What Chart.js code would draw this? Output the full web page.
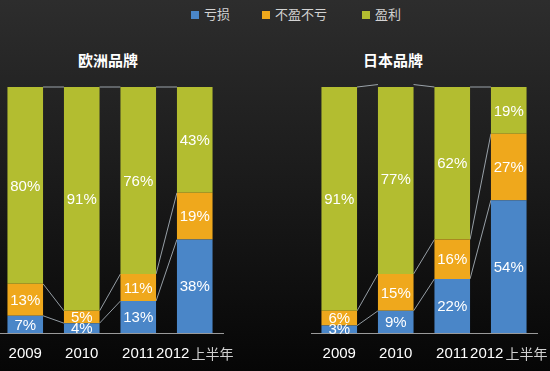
<!DOCTYPE html>
<html>
<head>
<meta charset="utf-8">
<script src="https://cdn.jsdelivr.net/npm/chart.js@4.4.1/dist/chart.umd.min.js"></script>
<style>
  html, body { margin: 0; padding: 0; }
  body {
    width: 550px; height: 371px; overflow: hidden; position: relative;
    background: linear-gradient(to bottom, #2d2d2d 0%, #1c1c1c 45%, #060606 100%);
    font-family: "Noto Sans CJK SC", "Liberation Sans", sans-serif;
  }
  .panel { position: absolute; top: 0; width: 240px; height: 371px; }
  .title {
    position: absolute; top: 50px; width: 100px; text-align: center;
    color: #fff; font-weight: bold; font-size: 15px; line-height: 20px;
  }
  .legend-item { position: absolute; top: 5px; height: 18px; line-height: 18px; color: #d2d2d2; font-size: 13px; }
  .legend-item i { display: inline-block; width: 8px; height: 8px; margin-right: 5px; vertical-align: 0px; }
</style>
</head>
<body>
<div class="legend-item" style="left:191px"><i style="background:#4a86c8"></i>亏损</div>
<div class="legend-item" style="left:262px"><i style="background:#efa81c"></i>不盈不亏</div>
<div class="legend-item" style="left:362px"><i style="background:#b3bd30"></i>盈利</div>

<div class="title" style="left:58px">欧洲品牌</div>
<div class="title" style="left:343px">日本品牌</div>

<div class="panel" style="left:-3px"><canvas id="euChart"></canvas></div>
<div class="panel" style="left:311px"><canvas id="jpChart"></canvas></div>

<script>
// Categories and values (percent)
const years = ['2009', '2010', '2011', '2012'];
const yearSuffix = ['', '', '', '上半年'];
const seriesNames = ['亏损', '不盈不亏', '盈利'];
const seriesColors = ['#4a86c8', '#efa81c', '#b3bd30'];

const euLoss = [7, 4, 13, 38];
const euBreakeven = [13, 5, 11, 19];
const euProfit = [80, 91, 76, 43];

const jpLoss = [3, 9, 22, 54];
const jpBreakeven = [6, 15, 16, 27];
const jpProfit = [91, 77, 62, 19];

// thin lines joining the segment tops of neighbouring bars
const connectors = {
    id: 'connectors',
    beforeDatasetsDraw(chart) {
        const ctx = chart.ctx;
        ctx.save();
        ctx.strokeStyle = 'rgba(195, 205, 215, 0.75)';
        ctx.lineWidth = 1;
        chart.data.datasets.forEach((ds, di) => {
            const meta = chart.getDatasetMeta(di);
            for (let i = 0; i < meta.data.length - 1; i++) {
                const a = meta.data[i], b = meta.data[i + 1];
                ctx.beginPath();
                ctx.moveTo(a.x + a.width / 2, a.y);
                ctx.lineTo(b.x - b.width / 2, b.y);
                ctx.stroke();
            }
        });
        ctx.restore();
    }
};

// percent labels inside segments + x labels with the grey suffix
const labels = {
    id: 'labels',
    afterDatasetsDraw(chart) {
        const ctx = chart.ctx;
        ctx.save();
        ctx.fillStyle = '#ffffff';
        ctx.font = '15px "Liberation Sans", sans-serif';
        ctx.textAlign = 'center';
        ctx.textBaseline = 'middle';
        chart.data.datasets.forEach((ds, di) => {
            const meta = chart.getDatasetMeta(di);
            meta.data.forEach((bar, i) => {
                ctx.fillText(ds.data[i] + '%', bar.x, (bar.y + bar.base) / 2 + 1);
            });
        });

        const xScale = chart.scales.x;
        const y = chart.chartArea.bottom + 21;
        ctx.textAlign = 'left';
        years.forEach((yr, i) => {
            const cx = xScale.getPixelForValue(i);
            ctx.font = '15px "Liberation Sans", sans-serif';
            const w1 = ctx.measureText(yr).width;
            ctx.font = '14px "Noto Sans CJK SC", sans-serif';
            const w2 = yearSuffix[i] ? ctx.measureText(yearSuffix[i]).width + 2 : 0;
            let x = cx - (w1 + w2) / 2;
            ctx.font = '15px "Liberation Sans", sans-serif';
            ctx.fillStyle = '#ffffff';
            ctx.fillText(yr, x, y);
            if (yearSuffix[i]) {
                ctx.font = '14px "Noto Sans CJK SC", sans-serif';
                ctx.fillStyle = '#cfcfcf';
                ctx.fillText(yearSuffix[i], x + w1 + 2, y);
            }
        });
        ctx.restore();
    }
};

function makeChart(id, loss, breakeven, profit) {
    const values = [loss, breakeven, profit];
    new Chart(document.getElementById(id), {
        type: 'bar',
        data: {
            labels: years.map((y, i) => y + yearSuffix[i]),
            datasets: values.map((data, i) => ({
                label: seriesNames[i],
                data: data,
                backgroundColor: seriesColors[i],
                borderWidth: 0,
                barPercentage: 0.63,
                categoryPercentage: 1.0
            }))
        },
        options: {
            responsive: true,
            maintainAspectRatio: false,
            animation: false,
            layout: { padding: { top: 87, bottom: 38, left: 0, right: 14 } },
            plugins: {
                legend: { display: false },
                tooltip: { enabled: false }
            },
            scales: {
                x: {
                    stacked: true,
                    grid: { display: false, drawTicks: false },
                    border: { display: true, color: '#9a9a9a', width: 1 },
                    ticks: { display: false }
                },
                y: {
                    stacked: true,
                    display: false,
                    min: 0,
                    max: 100
                }
            }
        },
        plugins: [connectors, labels]
    });
}

makeChart('euChart', euLoss, euBreakeven, euProfit);
makeChart('jpChart', jpLoss, jpBreakeven, jpProfit);
</script>
</body>
</html>
